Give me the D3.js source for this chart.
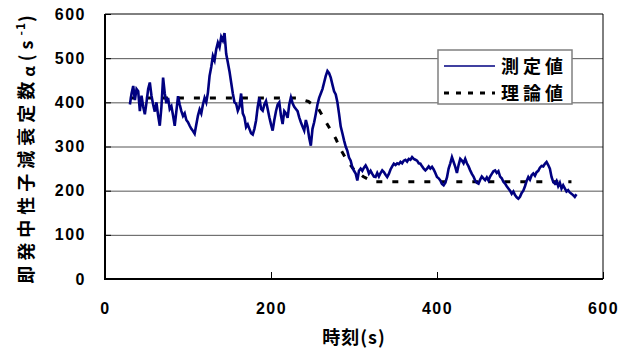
<!DOCTYPE html>
<html lang="ja">
  <head>
    <meta charset="utf-8" />
    <title>即発中性子減衰定数</title>
    <script type="text/javascript" src="https://d3js.org/d3.v7.min.js"></script>
    <style>
      body { margin: 0; background: #fff; }
      svg { font-family: "Noto Sans CJK JP", sans-serif; font-weight: bold; }
      .axis path { display: none; }
      .axis line { stroke: #000; stroke-width: 1px; }
      .axis text { font-size: 16px; letter-spacing: 1.5px; fill: #000; }
      .grid line { stroke: #555; stroke-width: 1px; }
      .grid path, .grid text { display: none; }
      path.measured { fill: none; stroke: #000080; stroke-width: 2.6px; stroke-linejoin: miter; }
      path.theory { fill: none; stroke: #000; stroke-width: 3px; stroke-dasharray: 6,10; }
    </style>
  </head>
  <body>
    <script>
      let w = 635;
      let h = 349;
      let margin = { top: 14, right: 32, bottom: 70, left: 105 };

      // 時刻 (s)
      let tStart = 30;
      let tStep = 2;
      // 測定値, one value every 2 s from t = 30
      let measured = [
        395, 420, 437, 405, 430, 425, 380, 415, 390, 373,
        400, 430, 445, 415, 395, 379, 400, 370, 347, 390,
        456, 420, 398, 410, 385, 391, 370, 347, 380, 414,
        395, 380, 369, 375, 360, 355, 347, 340, 335, 329,
        350, 370, 384, 375, 395, 410, 400, 422, 460, 480,
        505, 495, 520, 535, 525, 548, 540, 557, 510, 490,
        470, 445, 420, 400, 397, 381, 390, 420, 375, 366,
        344, 350, 340, 330, 327, 340, 359, 390, 411, 385,
        381, 395, 403, 385, 366, 350, 336, 360, 380, 395,
        400, 370, 351, 380, 375, 365, 395, 411, 398, 390,
        385, 380, 366, 355, 345, 336, 360, 345, 320, 302,
        340, 355, 374, 395, 410, 420, 430, 445, 460, 471,
        466, 456, 440, 425, 418, 400, 374, 345, 330, 314,
        300, 290, 275, 268, 253, 245, 239, 223, 245, 250,
        245, 252, 257, 250, 239, 245, 238, 232, 231, 240,
        232, 240, 246, 242, 236, 231, 238, 248, 255, 261,
        258, 262, 260, 265, 262, 268, 270, 266, 272, 270,
        276, 272, 270, 268, 262, 261, 255, 250, 246, 250,
        255, 250, 254, 248, 240, 231, 228, 223, 215, 212,
        218, 230, 250, 262, 276, 265, 254, 240, 258, 272,
        268, 262, 272, 262, 255, 246, 238, 232, 223, 218,
        216, 225, 232, 228, 224, 230, 223, 232, 238, 244,
        246, 240, 244, 232, 228, 220, 216, 210, 205, 200,
        193, 198, 190, 185, 182, 186, 195, 200, 210, 222,
        231, 225, 235, 239, 234, 242, 245, 252, 256, 255,
        261, 265, 258, 250, 231, 220, 216, 222, 210, 218,
        205, 212, 205, 198, 201, 196, 193, 190, 186, 192
      ];
      // 理論値
      let theoryT = [30, 230, 245, 257, 271, 278, 284, 291, 299, 311, 323, 562];
      let theoryV = [410, 410, 402, 386, 340, 318, 293, 270, 250, 232, 220, 220];

      let xTicks = [0, 200, 400, 600];
      let yTicks = [0, 100, 200, 300, 400, 500, 600];

      let svg = d3.select("body").append("svg").attr("width", w).attr("height", h);

      let x_scale = d3.scaleLinear().domain([0, 600]).range([margin.left, w - margin.right]);
      let y_scale = d3.scaleLinear().domain([0, 600]).range([h - margin.bottom, margin.top]);

      // gridlines
      svg.append("g")
        .attr("class", "grid")
        .attr("transform", `translate(${margin.left},0)`)
        .call(d3.axisLeft(y_scale).tickValues([100, 200, 300, 400, 500]).tickSize(-(w - margin.left - margin.right)));

      // theory line
      let theoryData = theoryT.map((t, i) => [t, theoryV[i]]);
      let line = d3.line().x((d) => x_scale(d[0])).y((d) => y_scale(d[1]));
      svg.append("path").attr("class", "theory").attr("d", line(theoryData));

      // measured line
      let measData = measured.map((v, i) => [tStart + i * tStep, v]);
      svg.append("path").attr("class", "measured").attr("d", line(measData));

      // frame
      svg.append("line")
        .attr("x1", x_scale(0)).attr("x2", x_scale(600))
        .attr("y1", y_scale(600)).attr("y2", y_scale(600))
        .attr("stroke", "#000").attr("stroke-width", 1);
      svg.append("line")
        .attr("x1", x_scale(600)).attr("x2", x_scale(600))
        .attr("y1", y_scale(600)).attr("y2", y_scale(0))
        .attr("stroke", "#000").attr("stroke-width", 1);

      // axes
      svg.append("g")
        .attr("class", "y axis")
        .attr("transform", `translate(${margin.left},0)`)
        .call(d3.axisLeft(y_scale).tickValues(yTicks).tickSize(-6).tickPadding(19));
      svg.append("g")
        .attr("class", "x axis")
        .attr("transform", `translate(0,${h - margin.bottom})`)
        .call(d3.axisBottom(x_scale).tickValues(xTicks).tickSize(-7).tickPadding(24));

      svg.append("line")
        .attr("x1", x_scale(0)).attr("x2", x_scale(0))
        .attr("y1", y_scale(600)).attr("y2", y_scale(0) + 1)
        .attr("stroke", "#000").attr("stroke-width", 2);
      svg.append("line")
        .attr("x1", x_scale(0) - 1).attr("x2", x_scale(600))
        .attr("y1", y_scale(0)).attr("y2", y_scale(0))
        .attr("stroke", "#000").attr("stroke-width", 2);

      // axis titles
      svg.append("text")
        .attr("x", 354).attr("y", 344)
        .attr("text-anchor", "middle")
        .style("font-size", "18px")
        .style("letter-spacing", "1px")
        .text("時刻(s)");

      let yt = svg.append("text")
        .attr("transform", "translate(33,147) rotate(-90)")
        .attr("text-anchor", "middle")
        .style("font-size", "18px")
        .style("letter-spacing", "5px");
      yt.append("tspan").text("即発中性子減衰定数");
      yt.append("tspan").style("font-size", "16px").attr("dy", 2).text("α");
      yt.append("tspan").attr("dy", -2).text("(s");
      yt.append("tspan").style("font-size", "12px").attr("dy", -8).style("letter-spacing", "1px").text("-1");
      yt.append("tspan").attr("dy", 8).text(")");

      // legend
      let lg = svg.append("g").attr("transform", "translate(438,50)");
      lg.append("rect")
        .attr("width", 134).attr("height", 54)
        .attr("fill", "#fff").attr("stroke", "#808080").attr("stroke-width", 1.5);
      lg.append("line")
        .attr("x1", 6).attr("x2", 57).attr("y1", 16).attr("y2", 16)
        .attr("stroke", "#000080").attr("stroke-width", 1.5);
      lg.append("line")
        .attr("x1", 6).attr("x2", 57).attr("y1", 43).attr("y2", 43)
        .attr("stroke", "#000").attr("stroke-width", 3).attr("stroke-dasharray", "5,7");
      lg.append("text").attr("x", 63).attr("y", 22.5)
        .style("font-size", "18px").style("letter-spacing", "4px").text("測定値");
      lg.append("text").attr("x", 63).attr("y", 49.5)
        .style("font-size", "18px").style("letter-spacing", "4px").text("理論値");
    </script>
  </body>
</html>
